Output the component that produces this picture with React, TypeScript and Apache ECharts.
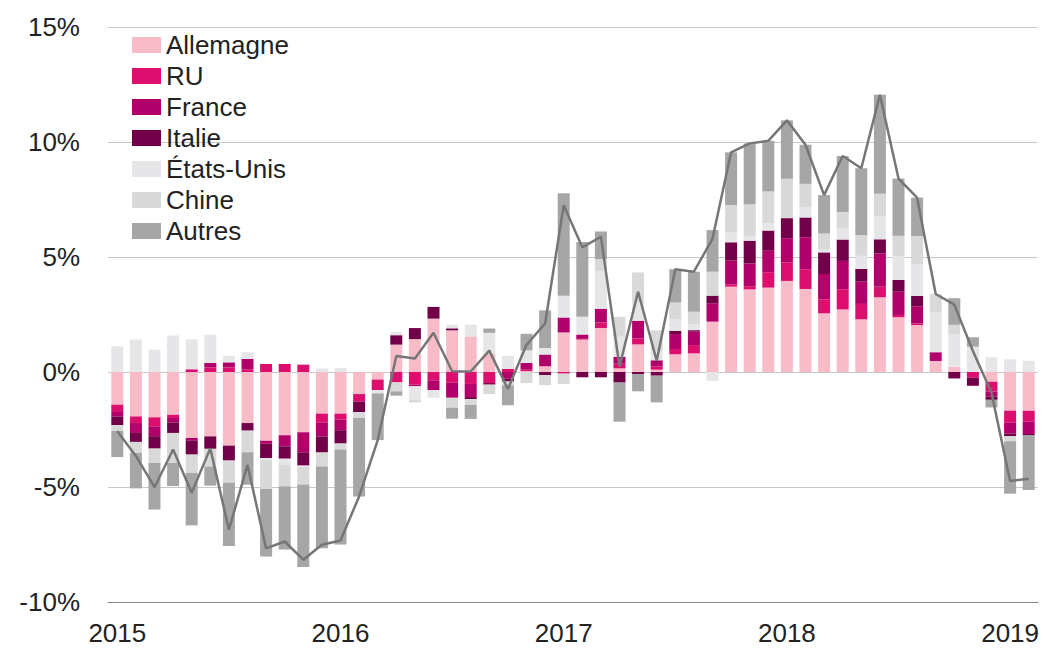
import React, { useEffect, useRef } from "react";
import * as echarts from "echarts";

const categories = [
  "2015-01","2015-02","2015-03","2015-04","2015-05","2015-06","2015-07","2015-08","2015-09","2015-10","2015-11","2015-12",
  "2016-01","2016-02","2016-03","2016-04","2016-05","2016-06","2016-07","2016-08","2016-09","2016-10","2016-11","2016-12",
  "2017-01","2017-02","2017-03","2017-04","2017-05","2017-06","2017-07","2017-08","2017-09","2017-10","2017-11","2017-12",
  "2018-01","2018-02","2018-03","2018-04","2018-05","2018-06","2018-07","2018-08","2018-09","2018-10","2018-11","2018-12",
  "2019-01","2019-02",
];

const allemagne = [
  -1.42,-1.93,-1.97,-1.86,-2.87,-2.80,-3.20,-2.22,-2.99,-2.75,-2.62,-1.81,
  -1.81,-0.96,-0.33,1.19,1.43,2.32,1.81,1.55,0.80,0,0.04,0.25,
  1.72,1.41,1.91,0.16,1.20,0.10,0.77,0.81,2.19,3.71,3.59,3.67,
  3.96,3.61,2.55,2.72,2.29,3.25,2.38,2.04,0.48,0.23,0,-0.42,
  -1.68,-1.68,
];
const ru = [
  -0.32,-0.29,-0.39,-0.14,0.12,0.20,0.20,0.12,0.35,0.35,0.32,-0.38,
  -0.26,-0.32,-0.46,-0.45,-0.55,-0.36,-0.45,-0.52,-0.48,0.13,0.06,0,
  -0.07,0.03,0.25,0.20,0.26,0.15,0.23,0.36,0,0.10,0.14,0.67,
  0.80,0.86,0.61,0.88,0.67,0.46,0.10,0.07,0,0,-0.25,-0.43,
  -0.51,-0.48,
];
const france = [
  -0.19,-0.43,-0.43,-0.19,-0.10,0.19,0.22,0.45,-0.13,-0.48,-0.87,-0.61,
  -0.46,0,0,0,-0.07,-0.43,-0.67,-0.57,0,-0.29,0.29,0.51,
  0.65,0.19,0.59,0.30,0.77,0.26,0.65,0.58,0.80,1.03,0.99,0.93,
  1.06,1.39,1.10,1.23,0.97,1.45,1.01,0.75,0.38,0,0,-0.22,
  -0.48,-0.54,
];
const italie = [
  -0.38,-0.39,-0.54,-0.46,-0.62,-0.54,-0.65,-0.33,-0.62,-0.54,-0.58,-0.70,
  -0.58,-0.46,0,0.41,0.48,0.51,0.09,-0.09,-0.07,-0.12,0,-0.14,
  0,-0.23,-0.23,-0.46,-0.09,-0.16,0.14,0.07,0.33,0.80,0.99,0.88,
  0.87,0.86,0.94,0.93,0.55,0.61,0.51,0.45,0,-0.28,-0.35,-0.14,
  -0.12,-0.04,
];
const etatsUnis = [
  1.12,1.41,0.97,1.59,1.30,1.23,0.29,0.29,-0.07,-0.26,-0.05,0.15,
  0.17,0,-0.14,0.13,-0.58,-0.33,0.16,0.51,0.90,0.58,0.55,0.28,
  0.94,0.77,1.62,0.87,0.80,0.40,0.51,0.26,-0.38,0.43,0.20,0.32,
  0,0.45,0.14,0.48,0.57,0.99,1.04,1.38,1.72,1.41,1.10,0.64,
  0.55,0.49,
];
const chine = [
  -0.25,-0.48,-0.62,-1.30,-0.80,-0.77,-0.97,-0.94,-1.28,-0.94,-0.77,-0.61,
  -0.26,-0.26,0,-0.39,-0.12,0,-0.43,-0.25,-0.41,-0.17,-0.48,-0.43,
  -0.45,0,0.54,0.87,1.30,0.90,0.72,0.54,1.04,1.19,1.38,1.38,
  1.71,1.01,0.68,0.72,0.91,0.99,0.88,1.22,0.81,0.41,0,0,
  -0.22,0,
];
const autres = [
  -1.14,-1.54,-2.03,-1.01,-2.28,-0.83,-2.75,-1.41,-2.93,-2.75,-3.59,-3.55,
  -4.13,-3.41,-2.03,-0.19,0,0,-0.48,-0.61,0.19,-0.87,0.72,1.64,
  4.46,3.25,1.20,-1.70,-0.75,-1.16,1.45,1.74,1.81,2.29,2.65,2.20,
  2.54,1.70,1.67,2.43,2.90,4.30,2.49,1.67,0,1.16,0.41,-0.33,
  -2.28,-2.39,
];

const seriesNames = ["Allemagne", "RU", "France", "Italie", "États-Unis", "Chine", "Autres"];
const seriesData = [allemagne, ru, france, italie, etatsUnis, chine, autres];
const seriesColors = ["#f8bcc9", "#dc0f6f", "#b2006b", "#720048", "#e6e6e8", "#d9d9d9", "#a6a6a6"];

const yTicks = [-10, -5, 0, 5, 10, 15];

const total = categories.map((_, i) =>
  Math.round(seriesData.reduce((s, arr) => s + arr[i], 0) * 100) / 100
);

const FONT = "'Liberation Sans', Arial, sans-serif";

export default function App() {
  const ref = useRef<HTMLDivElement>(null);

  useEffect(() => {
    if (!ref.current) return;
    const chart = echarts.init(ref.current, undefined, { renderer: "svg" });
    const barSeries = seriesNames.map((name, k) => ({
      name,
      type: "bar",
      stack: "total",
      barWidth: 12,
      data: seriesData[k],
      itemStyle: { color: seriesColors[k] },
      z: 2,
    }));
    chart.setOption({
      animation: false,
      backgroundColor: "#ffffff",
      textStyle: { fontFamily: FONT },
      grid: { left: 108, right: 5, top: 27, bottom: 48, containLabel: false },
      legend: {
        data: seriesNames,
        orient: "vertical",
        left: 132,
        top: 32,
        padding: 0,
        itemWidth: 29,
        itemHeight: 16,
        itemGap: 5,
        icon: "rect",
        textStyle: {
          fontFamily: FONT,
          fontSize: 26,
          lineHeight: 26,
          color: "#222222",
        },
      },
      xAxis: {
        type: "category",
        data: categories,
        boundaryGap: true,
        axisLine: { onZero: false, lineStyle: { color: "#858585", width: 1 } },
        axisTick: { interval: 11, length: 8, lineStyle: { color: "#858585" } },
        axisLabel: {
          interval: 11,
          margin: 18,
          fontSize: 26,
          color: "#222222",
          fontFamily: FONT,
          formatter: (v: string) => v.slice(0, 4),
        },
        splitLine: { show: false },
      },
      yAxis: {
        type: "value",
        min: yTicks[0],
        max: yTicks[yTicks.length - 1],
        interval: 5,
        axisLine: { show: false },
        axisTick: { show: false },
        axisLabel: {
          margin: 28,
          fontSize: 26,
          color: "#222222",
          fontFamily: FONT,
          formatter: (v: number) => `${v}%`,
        },
        splitLine: { lineStyle: { color: "#c8c8c8", width: 1 } },
      },
      series: [
        ...barSeries,
        {
          name: "Total",
          type: "line",
          data: total,
          symbol: "none",
          lineStyle: { color: "#767676", width: 2.5 },
          z: 5,
        },
      ],
    });
    return () => chart.dispose();
  }, []);

  return (
    <div
      ref={ref}
      style={{ position: "fixed", left: 0, top: 0, width: 1043, height: 650 }}
    />
  );
}
